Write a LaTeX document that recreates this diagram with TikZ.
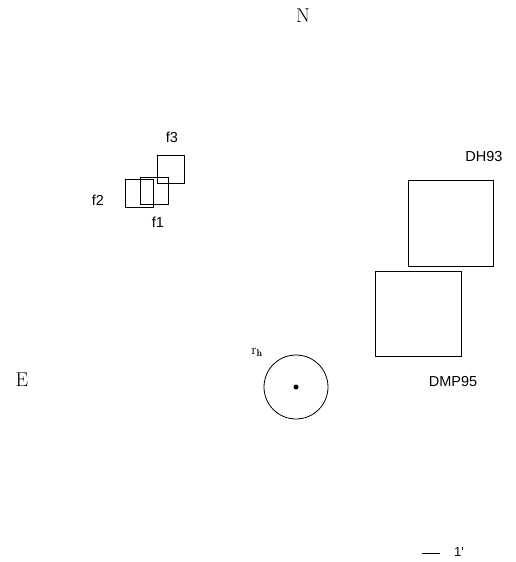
\documentclass[tikz,border=0pt]{standalone}
\usepackage{fontspec}
\newfontfamily\lab{Liberation Sans}
\begin{document}
\begin{tikzpicture}[x=1pt,y=-1pt,
  fld/.style={draw=black,line width=0.8pt},
  lbl/.style={font=\lab\fontsize{14.5}{17}\selectfont,inner sep=0pt},
  dir/.style={font=\fontsize{20}{24}\selectfont,inner sep=0pt}]
\useasboundingbox (0,0) rectangle (516,562);
% compass labels
\node[dir] (N) at (303,16) {N};
\node[dir] (E) at (22,380) {E};
% small fields
\draw[fld] (140,177) rectangle (168,204);
\draw[fld] (125,179) rectangle (153,207);
\draw[fld] (157,155) rectangle (184,183);
\node[lbl] (f3) at (172,137) {f3};
\node[lbl] (f2) at (98,200) {f2};
\node[lbl] (f1) at (158,222) {f1};
% large fields
\draw[fld] (408,180) rectangle (493,266);
\draw[fld] (375,271) rectangle (461,356);
\node[lbl] (dh) at (484,157) {DH93};
\node[lbl] (dmp) at (453,382) {DMP95};
% half-light radius
\draw[fld] (296,387) circle (32);
\fill (296,387) circle (2.5);
\node[inner sep=0pt,font=\fontsize{14}{16}\selectfont] (rh) at (257,352) {r$_{\mathbf h}$};
% scale bar
\coordinate (s1) at (422,553);
\coordinate (s2) at (440,553);
\draw[line width=0.8pt] (s1) -- (s2);
\node[lbl,font=\lab\fontsize{13}{15}\selectfont] (one) at (459,552) {1'};
\end{tikzpicture}
\end{document}
